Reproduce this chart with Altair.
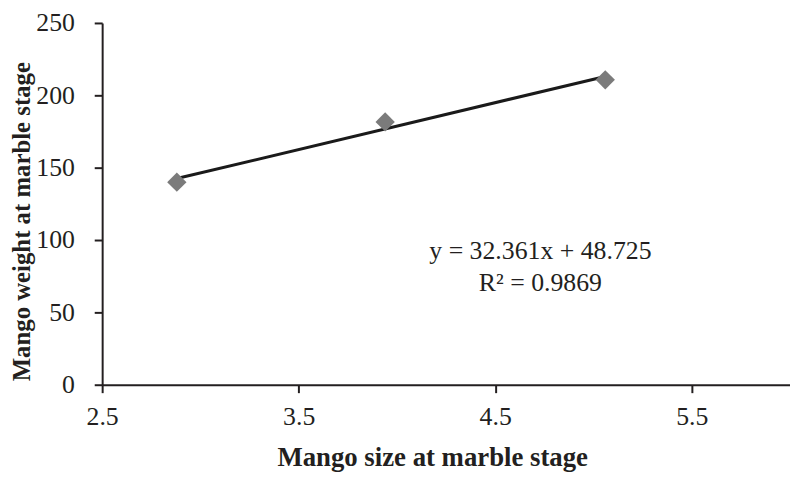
import altair as alt
import pandas as pd

# Data
size = [2.88, 3.94, 5.06]
weight = [140.0, 181.6, 210.7]
x_ticks = [2.5, 3.5, 4.5, 5.5]
y_ticks = [0, 50, 100, 150, 200, 250]
eq_lines = ["y = 32.361x + 48.725", "R² = 0.9869"]
eq_x = [4.73, 4.73]
eq_y = [92.5, 70.5]

df = pd.DataFrame({"x": size, "y": weight})
ann = pd.DataFrame({"x": eq_x, "y": eq_y, "t": eq_lines})

FONT = "Liberation Serif"
DARK = "#231f20"

xs = alt.Scale(domain=[2.5, 6], nice=False, zero=False)
ys = alt.Scale(domain=[0, 250], nice=False)

x_axis = alt.Axis(
    values=x_ticks, format=".1f", grid=False, labelFlush=False,
    title="Mango size at marble stage",
    titleFont=FONT, titleFontSize=27, titleFontWeight="bold", titleColor=DARK,
    titleX=333, titleY=81, titleBaseline="alphabetic", titleAlign="center",
    labelFont=FONT, labelFontSize=26, labelColor=DARK, labelPadding=11,
    tickSize=8, tickWidth=2, tickColor=DARK,
    domainColor=DARK, domainWidth=2,
)
y_axis = alt.Axis(
    values=y_ticks, grid=False, labelFlush=False,
    title="Mango weight at marble stage",
    titleFont=FONT, titleFontSize=25, titleFontWeight="bold", titleColor=DARK,
    titleX=-73, titleY=200, titleAngle=270, titleBaseline="alphabetic", titleAlign="center",
    labelFont=FONT, labelFontSize=26, labelColor=DARK, labelPadding=20,
    tickSize=8, tickWidth=2, tickColor=DARK,
    domainColor=DARK, domainWidth=2,
)

base = alt.Chart(df)

points = base.mark_point(shape="diamond", filled=True, size=380, color="#7b7b7b", opacity=1).encode(
    x=alt.X("x:Q", scale=xs, axis=x_axis),
    y=alt.Y("y:Q", scale=ys, axis=y_axis),
)

trend = base.transform_regression("x", "y").mark_line(color="#1a1a1a", strokeWidth=3).encode(
    x=alt.X("x:Q", scale=xs),
    y=alt.Y("y:Q", scale=ys),
)

text = alt.Chart(ann).mark_text(font=FONT, fontSize=26, color=DARK, align="center", baseline="middle").encode(
    x=alt.X("x:Q", scale=xs),
    y=alt.Y("y:Q", scale=ys),
    text="t:N",
)

chart = (trend + points + text).properties(
    width=694, height=365,
    autosize=alt.AutoSizeParams(type="none"),
    padding={"left": 95, "top": 13, "right": 0, "bottom": 91},
    background="white",
).configure_view(stroke=None)

chart.save("out.html", embed_options={"renderer": "svg", "actions": False})
